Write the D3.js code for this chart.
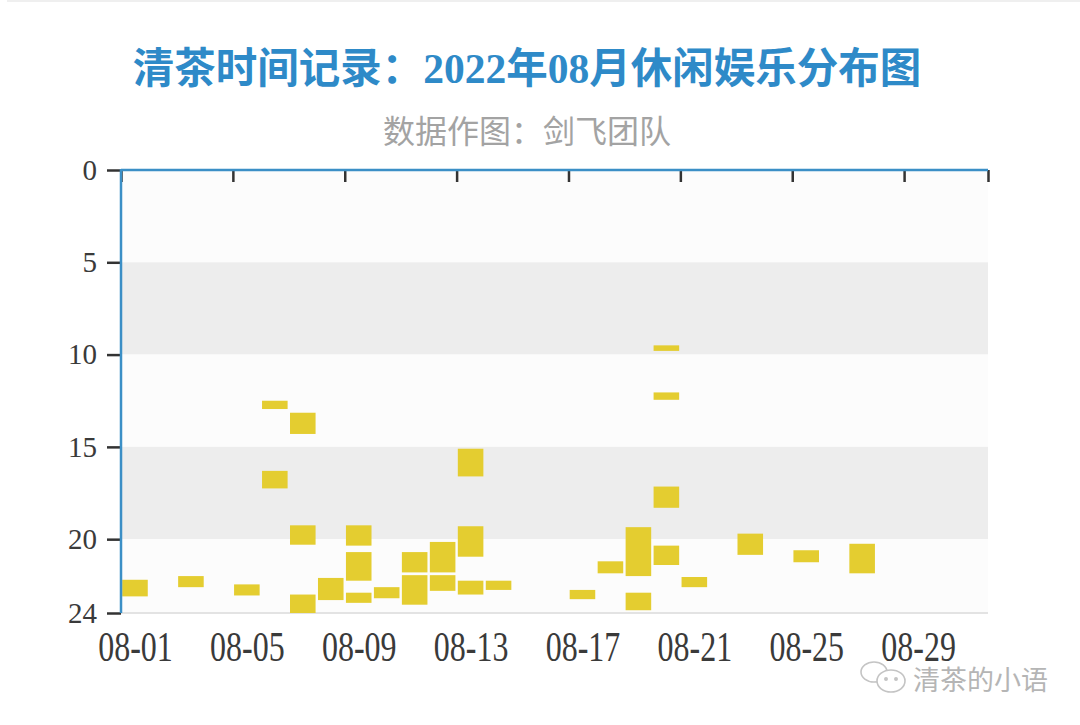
<!DOCTYPE html>
<html>
<head>
<meta charset="utf-8">
<script src="https://cdn.jsdelivr.net/npm/d3@7"></script>
<style>
  html, body { margin: 0; padding: 0; background: #ffffff; }
  svg { display: block; }
</style>
</head>
<body>
<svg id="chart" width="1080" height="725"></svg>
<script>
// ---- data ----
const titleText = "清茶时间记录：2022年08月休闲娱乐分布图";
const subtitleText = "数据作图：剑飞团队";
const watermarkText = "清茶的小语";
const xTickDays = [1, 5, 9, 13, 17, 21, 25, 29];
const xTickLabels = ["08-01", "08-05", "08-09", "08-13", "08-17", "08-21", "08-25", "08-29"];
const yTickValues = [0, 5, 10, 15, 20, 24];
const bandEdges = [0, 5, 10, 15, 20, 24];
const barDay   = [1,    3,    5,     6,    6,     7,     7,     7,    8,    9,     9,    9,    10,   11,   11,    12,    12,    13,   13,   13,    14,    17,    18,   19,    19,   20,  20,    20,    20,    21,    23,   25,   27];
const barStart = [22.2, 22.0, 22.45, 12.5, 16.3, 13.15, 19.25, 23.0, 22.1, 19.25, 20.7, 22.9, 22.6, 20.7, 21.95, 20.15, 21.95, 15.1, 19.3, 22.25, 22.25, 22.75, 21.2, 19.35, 22.9, 9.5, 12.05, 17.15, 20.35, 22.05, 19.7, 20.6, 20.25];
const barEnd   = [23.1, 22.6, 23.05, 12.95,17.25, 14.3,  20.3,  24.0, 23.3, 20.35, 22.25,23.45,23.2, 21.8, 23.55, 21.8,  22.8,  16.6, 20.95,23.0,  22.75, 23.25, 21.85,22.0,  23.85,9.8, 12.45, 18.3,  21.4,  22.6,  20.85,21.25,21.85];

const bars = barDay.map((d, i) => ({ day: d, start: barStart[i], end: barEnd[i] }));

// ---- layout ----
const svg = d3.select("#chart");
const pL = 121, pR = 988, pT = 170, pB = 613;
const x = d3.scaleLinear().domain([0.5, 31.5]).range([pL, pR]);
const y = d3.scaleLinear().domain([0, 24]).range([pT, pB]);

const serif = "'Liberation Serif','Times New Roman',serif";
const cjk = "'Noto Sans CJK SC','Noto Sans',sans-serif";

// faint top page line
svg.append("rect").attr("x", 7).attr("y", 0).attr("width", 1073).attr("height", 2).attr("fill", "#efefef");

// title
svg.append("text")
  .attr("x", 527).attr("y", 83)
  .attr("text-anchor", "middle")
  .attr("font-family", "'Liberation Serif'," + cjk)
  .attr("font-weight", "bold")
  .attr("font-size", 41.5)
  .attr("fill", "#2e8ac8")
  .text(titleText);

svg.append("text")
  .attr("x", 527).attr("y", 143)
  .attr("text-anchor", "middle")
  .attr("font-family", cjk)
  .attr("font-size", 32)
  .attr("fill", "#a3a3a3")
  .text(subtitleText);

// background bands
const bands = d3.range(bandEdges.length - 1).map(i => ({ a: bandEdges[i], b: bandEdges[i + 1], i }));
svg.append("g").selectAll("rect").data(bands).join("rect")
  .attr("x", pL).attr("width", pR - pL)
  .attr("y", d => y(d.a)).attr("height", d => y(d.b) - y(d.a))
  .attr("fill", d => d.i % 2 === 1 ? "#ededed" : "#fcfcfc");

// bottom light line
svg.append("line")
  .attr("x1", pL).attr("x2", pR).attr("y1", y(24)).attr("y2", y(24))
  .attr("stroke", "#e3e3e3").attr("stroke-width", 2);

// bars
svg.append("g").selectAll("rect").data(bars).join("rect")
  .attr("x", d => x(d.day - 0.5) + 1.2)
  .attr("width", d => x(d.day + 0.5) - x(d.day - 0.5) - 2.4)
  .attr("y", d => y(d.start))
  .attr("height", d => y(d.end) - y(d.start))
  .attr("fill", "#e4cd30");

// top axis (ticks downward)
const topTicks = xTickDays.map(d => d - 0.5).concat([31.5]);
const topAxis = svg.append("g").attr("transform", `translate(0,${pT})`)
  .call(d3.axisTop(x).tickValues(topTicks).tickSizeInner(-12).tickSizeOuter(0).tickFormat(""));
topAxis.select(".domain").remove();
topAxis.selectAll(".tick line").attr("stroke", "#333").attr("stroke-width", 2.5);
svg.append("line").attr("x1", pL).attr("x2", pR).attr("y1", pT).attr("y2", pT)
  .attr("stroke", "#3b8fc6").attr("stroke-width", 2.5);

// bottom labels (tall, narrow serif look)
const bottomAxis = svg.append("g").attr("transform", `translate(0,${pB})`)
  .call(d3.axisBottom(x).tickValues(xTickDays).tickSize(0).tickPadding(14)
    .tickFormat((d, i) => xTickLabels[i]));
bottomAxis.select(".domain").remove();
bottomAxis.selectAll("text")
  .attr("font-family", serif).attr("font-size", 32).attr("fill", "#3a3a3a")
  .attr("transform", "scale(1,1.3)");

// left axis
const leftAxis = svg.append("g").attr("transform", `translate(${pL},0)`)
  .call(d3.axisLeft(y).tickValues(yTickValues).tickSize(14).tickPadding(10));
leftAxis.select(".domain").remove();
leftAxis.selectAll(".tick line").attr("stroke", "#333").attr("stroke-width", 2.5);
leftAxis.selectAll("text").attr("font-family", serif).attr("font-size", 29).attr("fill", "#3a3a3a");
svg.append("line").attr("x1", pL).attr("x2", pL).attr("y1", pT - 1).attr("y2", pB)
  .attr("stroke", "#3b8fc6").attr("stroke-width", 2.5);

// watermark
const wm = svg.append("g").attr("fill", "none").attr("stroke", "#c4c4c4").attr("stroke-width", 1.6);
wm.append("ellipse").attr("cx", 874).attr("cy", 672).attr("rx", 13).attr("ry", 10);
wm.append("ellipse").attr("cx", 891).attr("cy", 681).attr("rx", 14).attr("ry", 11).attr("fill", "#fff");
wm.append("circle").attr("cx", 886).attr("cy", 679).attr("r", 1.2).attr("fill", "#c4c4c4");
wm.append("circle").attr("cx", 896).attr("cy", 679).attr("r", 1.2).attr("fill", "#c4c4c4");
svg.append("text")
  .attr("x", 913).attr("y", 690)
  .attr("font-family", cjk)
  .attr("font-size", 27)
  .attr("fill", "#b5b5b5")
  .text(watermarkText);
</script>
</body>
</html>
